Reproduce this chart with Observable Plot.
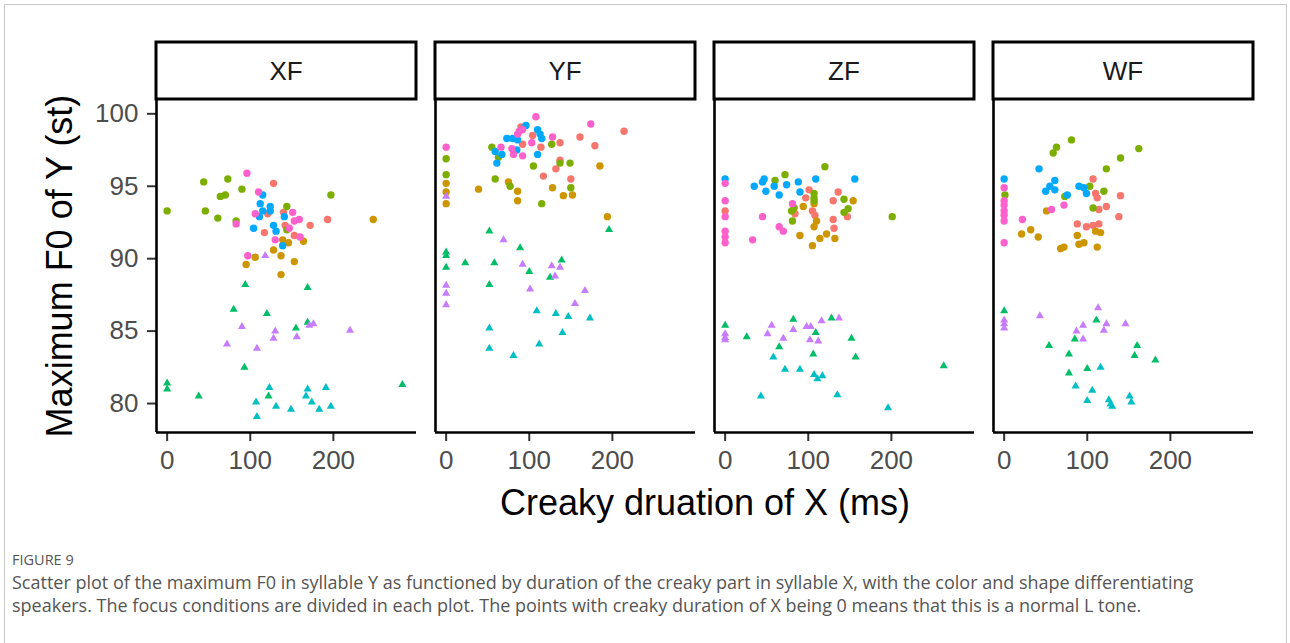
<!DOCTYPE html>
<html><head><meta charset="utf-8">
<script src="https://cdn.jsdelivr.net/npm/d3@7"></script>
<script src="https://cdn.jsdelivr.net/npm/@observablehq/plot@0.6"></script>
<style>
body{margin:0;background:#fff;font-family:"Liberation Sans",Arial,sans-serif;}
#card{position:absolute;left:4px;top:4px;width:1283px;height:720px;border:1px solid #c8c8c8;box-sizing:border-box;}
#chart{position:absolute;left:0;top:0;}
#fig{position:absolute;left:12px;top:550px;font-family:"Open Sans",sans-serif;font-size:14.5px;color:#555;}
#cap{position:absolute;left:12px;top:571px;width:1270px;font-family:"Open Sans",sans-serif;font-size:18px;line-height:23px;color:#555;white-space:nowrap;}
</style></head>
<body>
<div id="card"></div>
<div id="chart"></div>
<div id="fig">FIGURE 9</div>
<div id="cap">Scatter plot of the maximum F0 in syllable Y as functioned by duration of the creaky part in syllable X, with the color and shape differentiating<br>speakers. The focus conditions are divided in each plot. The points with creaky duration of X being 0 means that this is a normal L tone.</div>
<script>
// ---- data ----
const focusConditions = ["XF", "YF", "ZF", "WF"];
const speakers = ["S1", "S2", "S3", "S4", "S5", "S6", "S7", "S8"];
const triangleSpeakers = ["S4", "S5", "S7"];
const xTicks = [0, 100, 200];
const yTicks = [80, 85, 90, 95, 100];
const xLabel = "Creaky druation of X (ms)";
const yLabel = "Maximum F0 of Y (st)";

// [creaky duration of X (ms), maximum F0 of Y (st)] per speaker
const XF = {
  S1: [[128,95.2],[117,91.8],[172,92.3],[193,92.7],[153,91.6],[142,92.3],[121,93.1],[140,93.2]],
  S2: [[248,92.7],[164,91.2],[139,91.3],[146,91.1],[128,90.6],[137,90.2],[106,90.1],[95,89.6],[153,89.8],[137,88.9]],
  S3: [[0,93.3],[44,95.3],[73,95.5],[64,94.3],[70,94.4],[90,94.8],[46,93.3],[61,92.8],[197,94.4],[144,93.6],[83,92.6],[144,92.0]],
  S4: [[94,88.2],[169,88.0],[80,86.5],[120,86.2],[155,85.2],[169,85.6],[93,82.5],[0,81.4],[0,81.0],[38,80.5],[283,81.3],[122,80.5]],
  S5: [[123,81.1],[107,80.1],[131,79.8],[108,79.1],[149,79.6],[169,81.0],[167,80.5],[174,80.1],[183,79.6],[191,81.1],[197,79.8]],
  S6: [[115,94.4],[112,93.8],[124,93.6],[124,93.3],[115,93.3],[111,92.9],[104,92.1],[128,92.3],[131,91.9],[141,92.9],[139,90.9]],
  S7: [[118,90.2],[90,85.3],[72,84.1],[108,83.8],[130,85.0],[128,84.5],[156,84.6],[171,85.4],[176,85.5],[220,85.05]],
  S8: [[96,95.9],[110,94.6],[106,93.1],[83,92.4],[151,93.2],[159,92.7],[153,92.6],[147,92.1],[130,91.3],[160,91.5],[97,90.2]]
};
const YF = {
  S1: [[90,99.1],[104,98.5],[92,97.9],[114,97.7],[137,98.0],[161,98.4],[179,97.8],[214,98.8],[137,96.8],[132,96.2],[117,95.7],[150,95.5]],
  S2: [[0,95.2],[0,94.6],[0,93.8],[39,94.8],[75,95.3],[86,94.65],[86,94.0],[128,94.9],[141,94.35],[152,94.4],[185,96.4],[194,92.9]],
  S3: [[0,96.9],[0,95.8],[55,97.7],[63,97.0],[105,96.4],[127,97.9],[137,96.6],[149,96.6],[59,95.5],[77,95.0],[150,94.9],[115,93.8]],
  S4: [[196,92.0],[52,91.9],[89,90.75],[0,90.45],[0,90.2],[0,89.4],[23,89.7],[58,89.7],[139,89.9],[100,89.1],[125,88.7],[52,88.2]],
  S5: [[109,86.4],[132,86.2],[147,86.0],[173,85.9],[52,85.2],[140,84.9],[112,84.1],[52,83.8],[81,83.3]],
  S6: [[96,99.2],[73,98.3],[80,98.3],[86,98.2],[110,98.9],[113,98.6],[115,98.3],[59,97.4],[67,97.2],[61,96.6],[85,97.5],[110,97.2]],
  S7: [[0,94.3],[69,91.3],[92,89.6],[127,89.5],[137,89.4],[131,88.8],[0,88.15],[0,87.6],[0,86.8],[101,87.9],[167,87.8],[155,86.9]],
  S8: [[108,99.8],[174,99.3],[0,97.7],[66,97.7],[79,97.6],[81,97.2],[92,97.1],[88,98.8],[92,98.9],[86,98.6],[103,98.0],[128,98.4]]
};
const ZF = {
  S1: [[0,93.3],[101,94.75],[97,94.2],[136,94.6],[130,94.0],[105,93.3],[108,93.0],[84,93.1],[147,92.9],[130,92.7],[131,92.1]],
  S2: [[154,94.0],[94,93.6],[107,93.8],[110,92.6],[107,92.2],[90,91.6],[114,91.4],[122,91.7],[132,91.4],[105,90.9]],
  S3: [[120,96.35],[72,95.8],[60,95.4],[107,94.5],[107,94.2],[107,94.0],[143,94.1],[80,93.3],[83,93.5],[81,92.6],[143,93.2],[148,93.45],[201,92.9]],
  S4: [[0,85.4],[26,84.6],[82,85.8],[128,85.9],[109,84.9],[152,84.5],[65,83.9],[106,83.4],[157,83.2],[263,82.6]],
  S5: [[58,83.2],[72,82.35],[90,82.35],[107,82.0],[111,81.7],[117,81.9],[43,80.5],[135,80.6],[196,79.7]],
  S6: [[0,95.5],[35,95.0],[45,95.3],[47,95.5],[49,94.65],[59,95.0],[65,94.4],[74,95.1],[88,95.3],[90,94.6],[109,95.5],[156,95.5]],
  S7: [[0,84.8],[0,84.55],[0,84.4],[56,85.4],[51,84.8],[70,84.5],[82,85.1],[98,85.3],[103,85.3],[102,84.4],[112,84.3],[116,85.7],[137,85.9]],
  S8: [[0,95.2],[0,94.0],[0,92.9],[0,91.9],[0,91.5],[0,91.1],[45,92.9],[33,91.3],[65,92.2],[70,91.9],[81,93.8]]
};
const WF = {
  S1: [[107,95.5],[110,94.5],[112,94.2],[140,94.35],[123,93.6],[114,93.4],[138,92.9],[88,92.4],[99,92.2],[107,92.3],[114,92.4]],
  S2: [[51,93.3],[32,92.0],[21,91.7],[41,91.5],[110,91.9],[116,91.8],[88,91.6],[90,91.0],[96,91.1],[68,90.7],[72,90.8],[112,90.8]],
  S3: [[81,98.2],[63,97.7],[59,97.3],[162,97.6],[140,96.95],[123,96.2],[103,95.0],[120,94.65],[1,94.4],[73,94.3],[107,93.5]],
  S4: [[0,86.4],[111,85.75],[85,84.45],[54,84.0],[160,84.0],[78,83.4],[157,83.3],[182,83.0],[78,82.1],[100,82.4]],
  S5: [[116,82.5],[86,81.2],[106,80.9],[100,80.2],[126,80.25],[128,79.95],[130,79.8],[151,80.5],[153,80.1]],
  S6: [[0,95.5],[42,96.2],[61,95.4],[55,95.0],[50,94.65],[61,94.75],[76,94.4],[90,95.0],[96,94.9],[99,94.5]],
  S7: [[0,85.75],[0,85.5],[0,85.2],[113,86.6],[43,86.05],[95,85.4],[87,85.0],[123,85.5],[120,85.05],[146,85.5],[95,84.45]],
  S8: [[0,94.9],[0,94.0],[0,93.7],[0,93.3],[0,93.0],[0,92.6],[0,91.1],[22,92.7],[57,93.4],[72,93.7]]
};

// ---- styles ----
const speakerColors = ["#F8766D", "#CD9600", "#7CAE00", "#00BE67", "#00BFC4", "#00A9FF", "#C77CFF", "#FF61CC"];
const xDomain = [-12.8, 300];
const yDomain = [78.0, 100.92];

const byFocus = {XF, YF, ZF, WF};
const rows = [];
for (const f of focusConditions) {
  for (const s of speakers) {
    for (const [dur, f0] of byFocus[f][s]) rows.push({focus: f, speaker: s, dur, f0});
  }
}
const circles = rows.filter(d => !triangleSpeakers.includes(d.speaker));
const triangles = rows.filter(d => triangleSpeakers.includes(d.speaker));

const W = 1290, H = 530, plotTop = 100, plotBottom = 432;
const plot = Plot.plot({
  width: W, height: H,
  marginLeft: 155, marginRight: 35, marginTop: plotTop, marginBottom: H - plotBottom,
  fx: {domain: focusConditions, paddingInner: 0.067, paddingOuter: 0, axis: null},
  x: {domain: xDomain, label: null},
  y: {domain: yDomain, label: null},
  color: {domain: speakers, range: speakerColors},
  style: {fontFamily: "'Liberation Sans', Arial, sans-serif", fontSize: "26px", background: "transparent", overflow: "visible"},
  marks: [
    Plot.axisX({ticks: xTicks, tickSize: 9, tickPadding: 9, stroke: "#333", strokeWidth: 2, fill: "#4d4d4d", label: null, fontSize: 26}),
    Plot.axisY({ticks: yTicks, tickSize: 9, tickPadding: 9, stroke: "#333", strokeWidth: 2, fill: "#4d4d4d", label: null, fontSize: 26}),
    Plot.ruleX([xDomain[0]], {stroke: "#000", strokeWidth: 2.6}),
    Plot.ruleY([yDomain[0]], {stroke: "#000", strokeWidth: 2.6}),
    Plot.dot(circles, {fx: "focus", x: "dur", y: "f0", fill: "speaker", r: 3.7, symbol: "circle"}),
    Plot.dot(triangles, {fx: "focus", x: "dur", y: "f0", fill: "speaker", r: 3.0, symbol: "triangle"})
  ]
});
document.getElementById("chart").appendChild(plot);

// facet strips
const fxs = plot.scale("fx");
const svg = d3.select(plot);
const bw = fxs.bandwidth;
for (const f of focusConditions) {
  const x0 = fxs.apply(f);
  const g = svg.append("g");
  g.append("rect").attr("x", x0).attr("y", 42).attr("width", bw).attr("height", 57)
    .attr("fill", "#fff").attr("stroke", "#000").attr("stroke-width", 3);
  g.append("text").attr("x", x0 + bw / 2).attr("y", 71).attr("text-anchor", "middle")
    .attr("dominant-baseline", "central").attr("font-size", 26).attr("fill", "#1a1a1a").text(f);
}
// axis titles
svg.append("text").attr("x", (155 + W - 35) / 2).attr("y", 515).attr("text-anchor", "middle")
  .attr("font-size", 36).attr("fill", "#000").text(xLabel);
svg.append("text").attr("transform", `translate(72,${(plotTop + plotBottom) / 2}) rotate(-90)`)
  .attr("text-anchor", "middle").attr("font-size", 36).attr("fill", "#000").text(yLabel);
</script>
</body></html>
